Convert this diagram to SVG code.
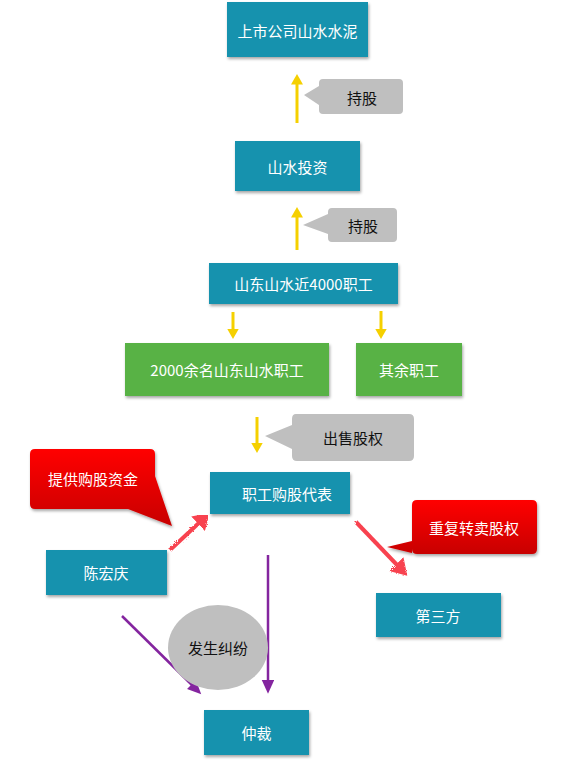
<svg xmlns="http://www.w3.org/2000/svg" width="564" height="763" viewBox="0 0 564 763">
<defs>
  <filter id="shadow" x="-10%" y="-10%" width="130%" height="140%">
    <feDropShadow dx="1" dy="2" stdDeviation="1.5" flood-color="#000" flood-opacity="0.35"/>
  </filter>
  <filter id="rough" x="-20%" y="-20%" width="140%" height="140%">
    <feTurbulence type="fractalNoise" baseFrequency="0.8" numOctaves="2" result="n"/>
    <feDisplacementMap in="SourceGraphic" in2="n" scale="3"/>
  </filter>
  <linearGradient id="red" x1="0" y1="0" x2="0" y2="1">
    <stop offset="0" stop-color="#ff0000"/>
    <stop offset="1" stop-color="#c80000"/>
  </linearGradient>
  <marker id="ay" markerWidth="4" markerHeight="4" refX="1.5" refY="2" orient="auto" markerUnits="strokeWidth">
    <path d="M0,0 L3.5,2 L0,4 Z" fill="#f5d000"/>
  </marker>
  <marker id="ap" markerWidth="6" markerHeight="6" refX="2" refY="2.5" orient="auto" markerUnits="strokeWidth">
    <path d="M0,0 L5.5,2.5 L0,5 Z" fill="#84259f"/>
  </marker>
  <marker id="ar" markerWidth="5" markerHeight="5" refX="1" refY="2.5" orient="auto" markerUnits="strokeWidth">
    <path d="M0,0 L4,2.5 L0,5 Z" fill="#f8434f"/>
  </marker>
  <style>
    .teal { fill: #1592ae; filter: url(#shadow); }
    .green { fill: #58b245; filter: url(#shadow); }
    .grey { fill: #bfbfbf; }
    .redc { fill: url(#red); filter: url(#shadow); }
    .wt { font-family: "Noto Sans CJK SC", "Liberation Sans", sans-serif; font-size: 15px; fill: #ffffff; text-anchor: middle; dominant-baseline: central; }
    .bt { font-family: "Noto Sans CJK SC", "Liberation Sans", sans-serif; font-size: 15px; fill: #111111; text-anchor: middle; dominant-baseline: central; }
    .yl { stroke: #f5d000; stroke-width: 3; fill: none; marker-end: url(#ay); }
    .pl { stroke: #84259f; stroke-width: 2.5; fill: none; marker-end: url(#ap); }
    .rl { stroke: #f8434f; stroke-width: 4; fill: none; marker-end: url(#ar); filter: url(#rough); }
  </style>
</defs>
<rect width="564" height="763" fill="#ffffff"/>

<g id="connectors">
  <line class="yl" x1="297" y1="123" x2="297" y2="80"/>
  <line class="yl" x1="297" y1="250" x2="297" y2="213"/>
  <line class="yl" x1="233" y1="312" x2="233" y2="333"/>
  <line class="yl" x1="381" y1="311" x2="381" y2="333"/>
  <line class="yl" x1="257" y1="417" x2="257" y2="447"/>
  <line class="rl" x1="170" y1="550" x2="201" y2="521"/>
  <line class="rl" x1="356" y1="522" x2="399" y2="567"/>
  <line class="pl" x1="122" y1="616" x2="195" y2="688"/>
  <line class="pl" x1="268" y1="555" x2="268" y2="685"/>
</g>

<g id="n-top"><rect class="teal" x="227" y="2" width="141" height="55"/><text class="wt" x="297.5" y="30">上市公司山水水泥</text></g>
<g id="c-hold1"><path class="grey" d="M323,79 H399 Q403,79 403,83 V110 Q403,114 399,114 H323 Q319,114 319,110 V105 L304,95 L319,86 V83 Q319,79 323,79 Z"/><text class="bt" x="362" y="97">持股</text></g>
<g id="n-invest"><rect class="teal" x="235" y="141" width="125" height="50"/><text class="wt" x="297.5" y="166">山水投资</text></g>
<g id="c-hold2"><path class="grey" d="M332,208 H393 Q397,208 397,212 V238 Q397,242 393,242 H332 Q328,242 328,238 V234 L303,225 L328,214 V212 Q328,208 332,208 Z"/><text class="bt" x="363" y="225">持股</text></g>
<g id="n-4000"><rect class="teal" x="209" y="263" width="189" height="41"/><text class="wt" x="303.5" y="283.5">山东山水近4000职工</text></g>
<g id="n-2000"><rect class="green" x="125" y="343" width="204" height="53"/><text class="wt" x="227" y="369.5">2000余名山东山水职工</text></g>
<g id="n-rest"><rect class="green" x="356" y="343" width="106" height="53"/><text class="wt" x="409" y="369.5">其余职工</text></g>
<g id="c-sell"><path class="grey" d="M296,414 H409 Q414,414 414,419 V456 Q414,461 409,461 H297 Q292,461 292,456 V449 L265,436 L292,425 V419 Q292,414 296,414 Z"/><text class="bt" x="353" y="437">出售股权</text></g>
<g id="n-rep"><rect class="teal" x="210" y="472" width="140" height="42"/><text class="wt" x="287" y="493">职工购股代表</text></g>
<g id="c-fund"><path class="redc" d="M35,449 H150 Q155,449 155,454 V476 L172,526 L128,509 H35 Q30,509 30,504 V454 Q30,449 35,449 Z"/><text class="wt" x="93" y="478">提供购股资金</text></g>
<g id="n-chen"><rect class="teal" x="46" y="550" width="121" height="45"/><text class="wt" x="106" y="572.5">陈宏庆</text></g>
<g id="c-resell"><path class="redc" d="M417,500 H532 Q537,500 537,505 V549 Q537,554 532,554 H417 Q412,554 412,549 V553 L387,547 L412,541 V505 Q412,500 417,500 Z"/><text class="wt" x="474" y="527">重复转卖股权</text></g>
<g id="n-third"><rect class="teal" x="376" y="593" width="125" height="44"/><text class="wt" x="438" y="615">第三方</text></g>
<g id="n-dispute"><ellipse cx="218" cy="647.5" rx="50" ry="42.5" fill="#bfbfbf"/><text class="bt" x="218" y="647">发生纠纷</text></g>
<g id="n-arb"><rect class="teal" x="204" y="710" width="105" height="45"/><text class="wt" x="256.5" y="732.5">仲裁</text></g>
</svg>
